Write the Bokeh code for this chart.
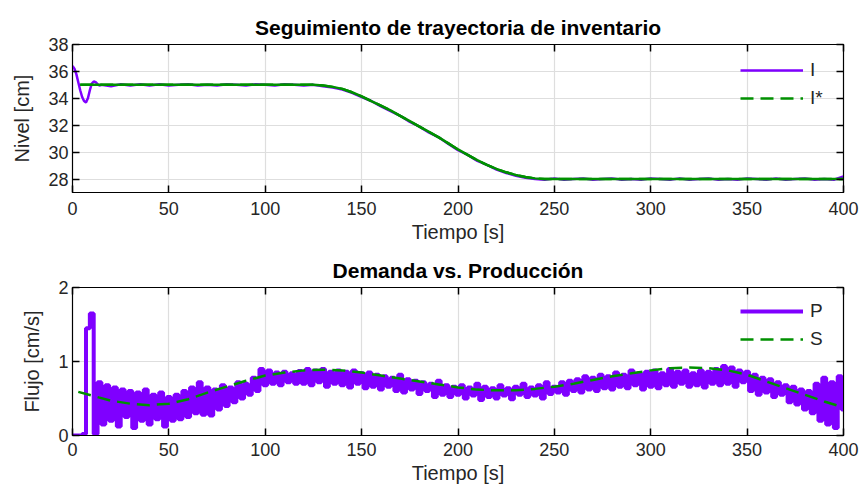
from bokeh.plotting import figure
from bokeh.layouts import column
from bokeh.models import (LinearAxis, Range1d, FixedTicker, Legend, LegendItem,
                          CustomJSTickFormatter)
from bokeh.embed import file_html
from bokeh.resources import INLINE

# ---------------- data ----------------
x_ticks = [0, 50, 100, 150, 200, 250, 300, 350, 400]
top_y_ticks = [28, 30, 32, 34, 36, 38]
bot_y_ticks = [0, 1, 2]

# Inventory reference I*
Iref_t = [4, 125, 130, 135, 140, 145, 150, 155, 160, 165, 170, 175, 180, 185, 190,
          195, 200, 205, 210, 215, 220, 225, 230, 235, 240, 245, 400]
Iref_v = [35.0, 35.0, 34.95, 34.85, 34.7, 34.45, 34.15, 33.8, 33.45, 33.1, 32.7, 32.3,
          31.9, 31.5, 31.1, 30.65, 30.2, 29.8, 29.4, 29.05, 28.75, 28.5, 28.3, 28.15,
          28.05, 28.0, 28.0]

# Inventory level I
I_t = list(range(0, 15)) + list(range(15, 401, 5))
I_v = [36.4, 36.2, 35.8, 35.2, 34.6, 34.1, 33.8, 33.7, 34.0, 34.6, 35.1, 35.25, 35.2, 35.05, 34.95,
       35.0, 34.9, 35.05, 34.95, 35.05, 34.95, 35.05, 34.95, 35.0, 35.05, 34.95, 35.0, 34.95,
       35.05, 35.0, 34.95, 35.05, 35.0, 34.95, 35.05, 35.0, 34.95, 35.0, 34.9, 34.8, 34.65,
       34.4, 34.1, 33.8, 33.4, 33.05, 32.7, 32.25, 31.9, 31.45, 31.1, 30.6, 30.15, 29.8,
       29.35, 29.05, 28.7, 28.45, 28.25, 28.1, 28.0, 27.95, 28.05, 27.95, 28.0, 28.05, 27.95,
       28.0, 28.05, 27.95, 28.0, 27.95, 28.05, 28.0, 27.95, 28.05, 27.95, 28.0, 28.05, 27.95,
       28.0, 27.95, 28.05, 28.0, 27.95, 28.05, 27.95, 28.0, 28.05, 27.95, 28.0, 27.95, 28.2]

# Demand S
S_t = [3, 10, 20, 30, 40, 50, 60, 70, 80, 90, 100, 110, 120, 130, 140, 150, 160, 170,
       180, 190, 200, 210, 220, 230, 240, 250, 260, 270, 280, 290, 300, 310, 320, 330,
       340, 350, 360, 370, 380, 390, 400]
S_v = [0.59, 0.54, 0.47, 0.43, 0.41, 0.43, 0.49, 0.58, 0.66, 0.74, 0.81, 0.85, 0.88,
       0.89, 0.88, 0.85, 0.81, 0.77, 0.73, 0.69, 0.65, 0.62, 0.61, 0.61, 0.63, 0.66,
       0.70, 0.75, 0.80, 0.84, 0.88, 0.91, 0.92, 0.91, 0.88, 0.82, 0.73, 0.64, 0.55,
       0.46, 0.38]

# Production P (every 2 s)
P_t = list(range(0, 401, 2))
P_v = [0, 0, 0, 0.02, 1.45, 1.65, 0.02, 0.72, 0.15, 0.68,
       0.2, 0.65, 0.12, 0.62, 0.25, 0.6, 0.1, 0.58, 0.2, 0.62,
       0.15, 0.55, 0.22, 0.58, 0.12, 0.52, 0.2, 0.55, 0.22, 0.6,
       0.25, 0.65, 0.3, 0.72, 0.28, 0.65, 0.27, 0.62, 0.35, 0.68,
       0.4, 0.65, 0.45, 0.72, 0.5, 0.7, 0.55, 0.78, 0.6, 0.9,
       0.68, 0.88, 0.7, 0.85, 0.68, 0.86, 0.72, 0.84, 0.7, 0.87,
       0.7, 0.9, 0.68, 0.88, 0.72, 0.9, 0.66, 0.86, 0.7, 0.88,
       0.68, 0.86, 0.65, 0.88, 0.7, 0.84, 0.64, 0.85, 0.66, 0.82,
       0.62, 0.8, 0.66, 0.78, 0.6, 0.82, 0.58, 0.76, 0.62, 0.74,
       0.56, 0.72, 0.6, 0.7, 0.52, 0.74, 0.55, 0.68, 0.52, 0.66,
       0.55, 0.68, 0.5, 0.65, 0.54, 0.7, 0.48, 0.66, 0.52, 0.64,
       0.5, 0.68, 0.54, 0.64, 0.49, 0.66, 0.55, 0.7, 0.52, 0.65,
       0.54, 0.68, 0.5, 0.72, 0.56, 0.66, 0.58, 0.72, 0.55, 0.74,
       0.6, 0.76, 0.58, 0.8, 0.62, 0.78, 0.6, 0.82, 0.64, 0.8,
       0.62, 0.85, 0.66, 0.82, 0.64, 0.88, 0.68, 0.84, 0.62, 0.86,
       0.66, 0.88, 0.64, 0.84, 0.68, 0.9, 0.66, 0.86, 0.7, 0.88,
       0.66, 0.84, 0.68, 0.88, 0.65, 0.86, 0.7, 0.9, 0.68, 0.94,
       0.7, 0.92, 0.66, 0.88, 0.72, 0.86, 0.6, 0.82, 0.55, 0.78,
       0.58, 0.76, 0.52, 0.72, 0.55, 0.68, 0.45, 0.66, 0.42, 0.62,
       0.35, 0.6, 0.3, 0.7, 0.2, 0.78, 0.15, 0.72, 0.1, 0.8,
       0.35]

PURPLE = "#7f00ff"
GREEN = "#009000"
TXT = "#262626"
FONT = "Liberation Sans"


def make_fig(title, ylabel, y_range, y_ticks, top_border, bottom_border, frame_h,
             title_standoff, xlab_standoff):
    p = figure(frame_width=771, frame_height=frame_h, output_backend="svg",
               toolbar_location=None,
               x_range=Range1d(0, 400), y_range=Range1d(*y_range),
               min_border_left=72, min_border_right=19,
               min_border_top=top_border, min_border_bottom=bottom_border,
               x_axis_label="Tiempo [s]", y_axis_label=ylabel)
    p.title.text = title
    p.title.align = "center"
    p.title.text_font = FONT
    p.title.text_font_size = "21px"
    p.title.text_font_style = "bold"
    p.title.text_color = "black"
    p.title.standoff = title_standoff
    p.outline_line_color = "black"
    p.outline_line_width = 1.2
    p.outline_line_alpha = 1
    p.background_fill_color = "white"
    p.border_fill_color = "white"

    for ax, ticks in ((p.xaxis[0], x_ticks), (p.yaxis[0], y_ticks)):
        ax.ticker = FixedTicker(ticks=ticks)
        ax.major_tick_in = 7
        ax.major_tick_out = 0
        ax.minor_tick_in = 0
        ax.minor_tick_out = 0
        ax.axis_line_color = "black"
        ax.major_tick_line_color = "black"
        ax.major_tick_line_width = 1.5
        ax.major_label_text_font = FONT
        ax.major_label_text_font_size = "18px"
        ax.major_label_text_color = TXT
        ax.axis_label_text_font = FONT
        ax.axis_label_text_font_size = "20px"
        ax.axis_label_text_font_style = "normal"
        ax.axis_label_text_color = TXT
    p.xaxis[0].major_label_standoff = xlab_standoff
    p.xaxis[0].axis_label_standoff = 3
    p.yaxis[0].major_label_standoff = 4
    p.yaxis[0].axis_label_standoff = 12

    # boxed ticks on top and right (no labels)
    for side, ticks in (("above", x_ticks), ("right", y_ticks)):
        ax = LinearAxis(ticker=FixedTicker(ticks=ticks),
                        formatter=CustomJSTickFormatter(code="return ''"))
        ax.major_tick_in = 7
        ax.major_tick_out = 0
        ax.minor_tick_in = 0
        ax.minor_tick_out = 0
        ax.major_label_standoff = 0
        ax.major_label_text_font_size = "1px"
        ax.axis_line_color = "black"
        ax.major_tick_line_color = "black"
        ax.major_tick_line_width = 1.5
        p.add_layout(ax, side)

    p.xgrid.ticker = FixedTicker(ticks=x_ticks)
    p.ygrid.ticker = FixedTicker(ticks=y_ticks)
    for g in (p.xgrid[0], p.ygrid[0]):
        g.grid_line_color = "#dedede"
        g.grid_line_width = 1.2
    return p


# ---------------- top plot ----------------
p1 = make_fig("Seguimiento de trayectoria de inventario", "Nivel [cm]",
              (27, 38), top_y_ticks, 44, 51, 148, 12, 9)
r_i = p1.line(I_t, I_v, line_color=PURPLE, line_width=2.5)
p1.line(Iref_t, Iref_v, line_color=GREEN, line_width=2.5)
r_iref = p1.line(Iref_t, Iref_v, line_color=GREEN, line_width=2.5, line_dash="13 7")

leg1 = Legend(items=[LegendItem(label="I", renderers=[r_i]),
                     LegendItem(label="I*", renderers=[r_iref])],
              location=(668, 80))

# ---------------- bottom plot ----------------
p2 = make_fig("Demanda vs. Producción", "Flujo [cm/s]",
              (0, 2), bot_y_ticks, 42, 53, 148, 12, 7)
r_p = p2.step(P_t, P_v, line_color=PURPLE, line_width=4, mode="center")
r_s = p2.line(S_t, S_v, line_color=GREEN, line_width=2.5, line_dash="13 7")

leg2 = Legend(items=[LegendItem(label="P", renderers=[r_p]),
                     LegendItem(label="S", renderers=[r_s])],
              location=(668, 82))

for p, leg in ((p1, leg1), (p2, leg2)):
    leg.background_fill_alpha = 0
    leg.border_line_alpha = 0
    leg.padding = 0
    leg.margin = 0
    leg.spacing = 0
    leg.glyph_width = 63
    leg.glyph_height = 28
    leg.label_height = 28
    leg.label_standoff = 7
    leg.label_text_font = FONT
    leg.label_text_font_size = "19px"
    leg.label_text_color = TXT
    p.add_layout(leg)

layout = column(p1, p2, spacing=0)
open("out.html", "w").write(file_html(layout, INLINE))
